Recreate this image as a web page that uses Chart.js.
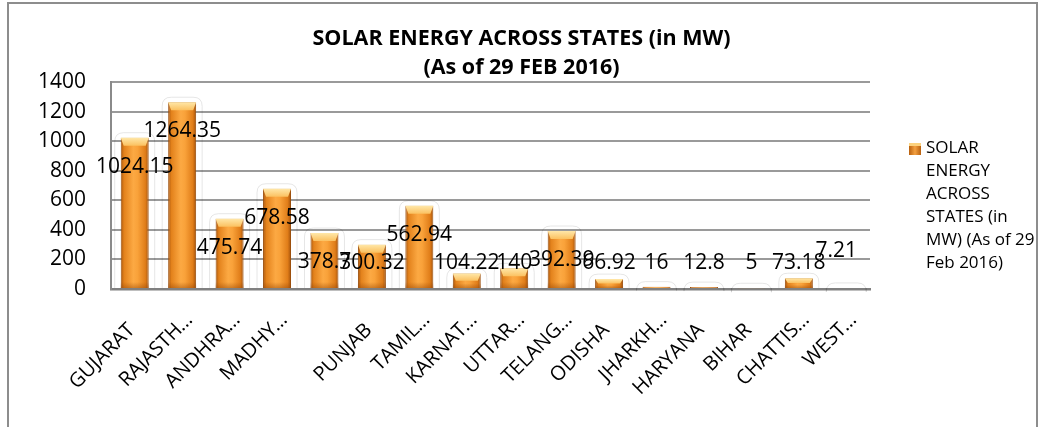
<!DOCTYPE html>
<html>
<head>
<meta charset="utf-8">
<script src="https://cdn.jsdelivr.net/npm/chart.js@4.4.1/dist/chart.umd.min.js"></script>
<style>
    body { margin: 0; background: #fff; }
    #wrap { position: relative; width: 1043px; height: 427px; overflow: hidden; }
    #frame { position: absolute; left: 7px; top: 2px; width: 1027px; height: 470px; border: 2px solid #8d8d8d; }
    #chart { position: absolute; left: 0; top: 0; }
    #legendBox { position: absolute; left: 909px; top: 143px; width: 12px; height: 12px;
        background: linear-gradient(90deg, #b8600f 0%, #f3a040 50%, #b8600f 100%); box-shadow: inset 0 3px 0 #fcd27e; }
    #legendText { position: absolute; left: 926px; top: 135px; font: 17px 'Open Sans', sans-serif; line-height: 23px; color: #000; white-space: nowrap; }
</style>
</head>
<body>
<div id="wrap">
    <div id="frame"></div>
    <canvas id="chart" width="1043" height="427"></canvas>
    <div id="legendBox"></div>
    <div id="legendText"></div>
</div>
<script>
// data
const states = ['GUJARAT', 'RAJASTH\u2026', 'ANDHRA\u2026', 'MADHY\u2026', '', 'PUNJAB', 'TAMIL\u2026', 'KARNAT\u2026',
    'UTTAR\u2026', 'TELANG\u2026', 'ODISHA', 'JHARKH\u2026', 'HARYANA', 'BIHAR', 'CHATTIS\u2026', 'WEST\u2026'];
const capacityMW = [1024.15, 1264.35, 475.74, 678.58, 378.7, 300.32, 562.94, 104.22,
    140, 392.39, 66.92, 16, 12.8, 5, 73.18, 7.21];
const yTicks = [0, 200, 400, 600, 800, 1000, 1200, 1400];
const titleLines = ['SOLAR ENERGY ACROSS STATES (in MW)', '(As of 29 FEB 2016)'];
const legendLines = ['SOLAR', 'ENERGY', 'ACROSS', 'STATES (in', 'MW) (As of 29', 'Feb 2016)'];

document.getElementById('legendText').innerHTML = legendLines.join('<br>');

const BAR_PCT = 0.59;
const FONT = "'Open Sans', sans-serif";

function barGradient(ctx) {
    const chart = ctx.chart;
    const xs = chart.scales.x;
    if (!chart.chartArea || !xs || ctx.dataIndex === undefined) return '#f39a32';
    const cx = xs.getPixelForValue(ctx.dataIndex);
    const half = (xs.width / states.length) * BAR_PCT / 2;
    const g = chart.ctx.createLinearGradient(cx - half, 0, cx + half, 0);
    g.addColorStop(0, '#a9560c');
    g.addColorStop(0.12, '#e3821c');
    g.addColorStop(0.45, '#fca943');
    g.addColorStop(0.6, '#f9a23a');
    g.addColorStop(0.88, '#e07d19');
    g.addColorStop(1, '#a3520b');
    return g;
}

// faint glow outline behind the bars
const glowPlugin = {
    id: 'glow',
    beforeDatasetsDraw(chart) {
        const c = chart.ctx;
        c.save();
        c.strokeStyle = 'rgba(0,0,0,0.1)';
        c.lineWidth = 1;
        chart.getDatasetMeta(0).data.forEach(bar => {
            const l = bar.x - bar.width / 2 - 6, r = bar.x + bar.width / 2 + 6;
            const t = bar.y - 5, rad = 9;
            c.beginPath();
            c.moveTo(l, bar.base);
            c.lineTo(l, t + rad);
            c.quadraticCurveTo(l, t, l + rad, t);
            c.lineTo(r - rad, t);
            c.quadraticCurveTo(r, t, r, t + rad);
            c.lineTo(r, bar.base);
            c.stroke();
        });
        c.restore();
    }
};

// top bevel on each bar
const bevelPlugin = {
    id: 'bevel',
    afterDatasetsDraw(chart) {
        const c = chart.ctx;
        chart.getDatasetMeta(0).data.forEach(bar => {
            const h = bar.base - bar.y;
            if (h < 2) return;
            const l = bar.x - bar.width / 2, r = bar.x + bar.width / 2;
            const d = Math.min(8, h / 2);
            c.save();
            const g = c.createLinearGradient(0, bar.y, 0, bar.y + d);
            g.addColorStop(0, '#ffe7a8');
            g.addColorStop(1, '#fbc160');
            c.fillStyle = g;
            c.beginPath();
            c.moveTo(l, bar.y);
            c.lineTo(r, bar.y);
            c.lineTo(r - 3, bar.y + d);
            c.lineTo(l + 3, bar.y + d);
            c.closePath();
            c.fill();
            const fd = Math.min(6, h / 3);
            const g2 = c.createLinearGradient(0, bar.base - fd, 0, bar.base);
            g2.addColorStop(0, 'rgba(150,70,5,0)');
            g2.addColorStop(1, 'rgba(150,70,5,0.45)');
            c.fillStyle = g2;
            c.fillRect(l, bar.base - fd, bar.width, fd);
            c.restore();
        });
    }
};

// value labels, roughly where Excel put them
const valueLabelPlugin = {
    id: 'valueLabels',
    afterDatasetsDraw(chart, args, opts) {
        const c = chart.ctx;
        const base = chart.scales.y.getPixelForValue(0);
        c.save();
        c.font = '21px ' + FONT;
        c.fillStyle = '#000';
        c.textAlign = 'center';
        c.textBaseline = 'middle';
        chart.getDatasetMeta(0).data.forEach((bar, i) => {
            let x = bar.x;
            let y = Math.min(bar.y + 29, base - 26);
            const n = opts.nudge[i];
            if (n) { x += n[0]; y += n[1]; }
            c.fillText(String(capacityMW[i]), x, y);
        });
        c.restore();
    }
};

// rotated category labels; the ellipsis hangs past the tick like in Excel
const categoryLabelPlugin = {
    id: 'categoryLabels',
    afterDraw(chart) {
        const c = chart.ctx;
        const xs = chart.scales.x;
        c.save();
        c.font = '20px ' + FONT;
        c.fillStyle = '#000';
        c.textBaseline = 'middle';
        states.forEach((name, i) => {
            if (!name) return;
            const cut = name.endsWith('\u2026');
            const main = cut ? name.slice(0, -1) : name;
            c.save();
            c.translate(xs.getPixelForTick(i) - 3, xs.top + 38);
            c.rotate(-Math.PI / 4);
            c.textAlign = 'right';
            c.fillText(main, 0, 0);
            if (cut) {
                c.textAlign = 'left';
                c.fillText('\u2026', -1, 0);
            }
            c.restore();
        });
        c.restore();
    }
};

new Chart(document.getElementById('chart'), {
    type: 'bar',
    plugins: [glowPlugin, bevelPlugin, valueLabelPlugin, categoryLabelPlugin],
    data: {
        labels: states,
        datasets: [{
            label: legendLines.join(' '),
            data: capacityMW,
            backgroundColor: barGradient,
            borderColor: '#9c4f0c',
            borderWidth: 1,
            borderSkipped: 'bottom',
            categoryPercentage: 1,
            barPercentage: BAR_PCT
        }]
    },
    options: {
        responsive: false,
        animation: false,
        layout: { padding: 0 },
        plugins: {
            legend: { display: false },
            tooltip: { enabled: false },
            title: {
                display: true,
                text: titleLines,
                color: '#000',
                font: { family: FONT, size: 21.5, weight: 'bold', lineHeight: 1.33 },
                padding: { top: 25, bottom: 0 }
            },
            valueLabels: { nudge: { 15: [-10, -12] } }
        },
        scales: {
            x: {
                grid: { display: false },
                border: { color: '#808080', width: 2.5 },
                ticks: { display: false },
                afterFit: s => { s.height = 138; }
            },
            y: {
                min: 0,
                max: 1400,
                afterBuildTicks: s => { s.ticks = yTicks.map(v => ({ value: v })); },
                grid: { color: '#9a9a9a', lineWidth: 2, drawTicks: false },
                border: { color: '#8a8a8a', width: 2 },
                ticks: {
                    padding: 25,
                    color: '#000',
                    font: { family: FONT, size: 21 },
                    callback: v => String(v)
                },
                afterFit: s => { s.width = 111; }
            },
            // empty box on the right to leave room for the legend
            side: {
                position: 'right',
                min: 0,
                max: 1400,
                grid: { drawOnChartArea: false, drawTicks: false },
                border: { display: false },
                ticks: { display: false },
                afterFit: s => { s.width = 173; }
            }
        }
    }
});
</script>
</body>
</html>
